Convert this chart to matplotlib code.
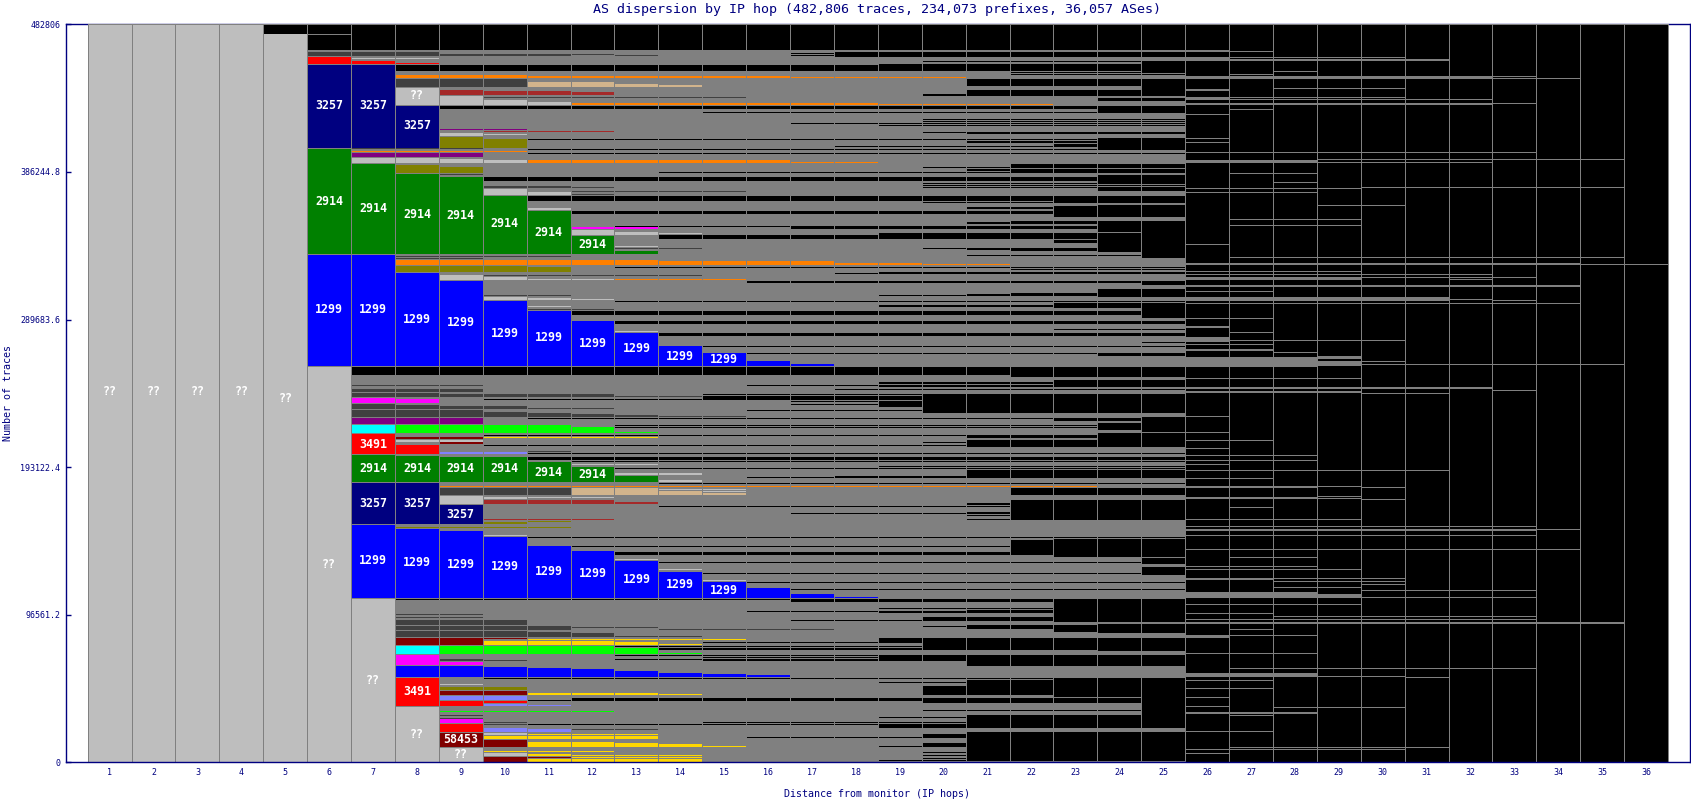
import numpy as np
import matplotlib
matplotlib.use('Agg')
from matplotlib import pyplot as plt

# all trace counts below are in thousands
TOTAL = 482.806
HOPS = np.arange(1, 37)
Y_TICKS = [0, 96561.2, 193122.4, 289683.6, 386244.8, 482806]
Y_TICK_LABELS = ['0', '96561.2', '193122.4', '289683.6', '386244.8', '482806']

# the three big blocks: one top value for each hop, from first hop on
BLUE_A_HOPS = [6, 7, 8, 9, 10, 11, 12, 13, 14, 15, 16, 17]
BLUE_A_TOP = [331.9, 331.9, 320.1, 314.9, 301.8, 295.2, 288.7, 280.8, 272.3, 267.8, 262.5, 260.6]
BLUE_A_BOTTOM = 259.3
BLUE_B_HOPS = [7, 8, 9, 10, 11, 12, 13, 14, 15, 16, 17, 18]
BLUE_B_TOP = [155.2, 152.6, 151.3, 147.4, 141.5, 138.2, 131.7, 124.5, 117.9, 114.0, 110.1, 108.3]
BLUE_B_BOTTOM = 107.5
BLUE_C_HOPS = [8, 9, 10, 11, 12, 13, 14, 15, 16]
BLUE_C_TOP = [63.0, 63.0, 62.4, 61.7, 61.0, 59.7, 58.4, 57.8, 57.1]
BLUE_C_BOTTOM = 55.8
GREEN_A_HOPS = [6, 7, 8, 9, 10, 11, 12, 13]
GREEN_A_TOP = [401.2, 391.4, 384.9, 382.9, 370.5, 360.7, 344.3, 334.5]
GREEN_A_BOTTOM = 332.5
GREEN_B_HOPS = [7, 8, 9, 10, 11, 12, 13]
GREEN_B_TOP = [201.0, 200.4, 199.7, 199.7, 196.5, 193.2, 187.3]
GREEN_B_BOTTOM = 183.4

# rows: first hop, last hop, upper, lower
NAVY = [(6, 7, 456.4, 401.9), (8, 8, 429.4, 401.9), (7, 8, 182.7, 155.9), (9, 9, 168.3, 155.9)]
LIGHT = [(1, 4, 482.8, 0), (5, 5, 476.3, 0), (6, 6, 258.9, 0), (7, 7, 106.8, 0), (8, 8, 36.2, 0),
         (9, 9, 9.4, 0), (8, 8, 441.1, 430.0), (7, 8, 460.4, 459.8), (9, 9, 435.9, 430.0),
         (10, 10, 433.3, 430.0), (11, 11, 432.0, 430.0), (9, 9, 411.7, 409.7), (10, 10, 410.7, 410.1),
         (7, 8, 395.3, 392.0), (9, 9, 394.7, 392.0), (10, 10, 394.0, 392.0), (10, 10, 375.1, 371.1),
         (11, 11, 373.1, 371.1), (11, 11, 362.6, 361.3), (12, 12, 348.2, 345.0), (13, 13, 346.9, 345.0),
         (13, 13, 338.0, 337.4), (14, 14, 345.9, 345.3), (9, 9, 318.8, 315.5), (10, 10, 317.5, 315.5),
         (11, 12, 316.2, 315.6), (10, 10, 304.4, 302.4), (11, 11, 303.8, 302.4), (12, 12, 303.0, 302.4),
         (11, 11, 298.2, 297.6), (13, 13, 282.2, 281.6), (8, 9, 210.9, 209.6), (12, 13, 194.8, 194.2),
         (13, 14, 189.3, 188.0), (14, 14, 184.3, 183.7), (10, 10, 173.6, 172.3), (11, 12, 173.3, 172.7),
         (9, 9, 174.2, 169.0), (14, 15, 178.8, 178.2), (14, 15, 177.5, 176.9), (10, 10, 148.9, 148.3),
         (13, 13, 133.2, 132.6), (14, 14, 126.1, 125.5), (15, 15, 118.9, 118.3), (9, 9, 50.9, 50.3),
         (10, 10, 19.2, 17.9), (10, 10, 6.1, 4.1)]
DARK = [(6, 8, 464.7, 462.3), (9, 11, 463.7, 462.3), (12, 12, 463.4, 462.8), (13, 13, 462.8, 462.3),
        (8, 10, 447.0, 441.8), (10, 15, 434.9, 434.3), (7, 9, 401.5, 400.9), (9, 9, 384.5, 383.9),
        (10, 11, 377.0, 375.7), (12, 12, 376.2, 375.6), (12, 15, 374.0, 373.4), (12, 12, 371.7, 371.1),
        (13, 14, 336.2, 335.6), (8, 11, 331.4, 330.8), (8, 9, 329.7, 329.1), (10, 14, 318.8, 318.2),
        (10, 11, 305.7, 305.1), (11, 12, 296.5, 295.9), (7, 9, 247.1, 246.5), (7, 9, 244.2, 242.2),
        (7, 8, 241.6, 239.0), (9, 12, 240.9, 239.0), (13, 14, 239.8, 239.0), (7, 7, 234.4, 231.1),
        (8, 8, 233.7, 231.1), (9, 10, 233.1, 231.1), (11, 12, 231.9, 231.2), (7, 9, 230.5, 225.9),
        (10, 10, 229.2, 225.9), (11, 11, 228.6, 225.9), (12, 12, 228.0, 225.9), (13, 13, 227.2, 225.9),
        (14, 15, 226.5, 225.9), (11, 11, 203.3, 202.7), (9, 11, 179.4, 174.9), (8, 9, 97.0, 96.4),
        (8, 9, 95.0, 94.4), (8, 10, 93.1, 89.8), (8, 11, 89.2, 86.6), (12, 13, 88.4, 87.8),
        (14, 17, 87.2, 86.6), (8, 10, 85.9, 82.0), (11, 11, 85.3, 82.0), (12, 12, 84.6, 82.0),
        (13, 14, 82.8, 82.0), (9, 9, 67.6, 66.3), (10, 10, 67.0, 66.4), (9, 9, 31.0, 30.4),
        (9, 9, 29.0, 28.4), (10, 10, 26.5, 25.9), (10, 10, 25.1, 24.5), (12, 13, 21.5, 20.9)]
OLIVE = [(8, 8, 390.7, 385.5), (9, 9, 389.4, 385.5), (9, 9, 409.1, 401.9), (10, 10, 407.8, 401.9),
         (8, 10, 324.7, 320.8), (11, 11, 324.0, 320.8), (9, 10, 49.3, 47.3), (10, 10, 157.2, 155.9),
         (11, 11, 157.6, 157.0), (8, 11, 153.9, 153.3)]
PURPLE = [(7, 9, 398.6, 396.0), (9, 10, 414.5, 413.9), (7, 9, 225.2, 221.3)]
RED = [(6, 6, 461.4, 456.8), (7, 7, 458.8, 456.8), (8, 8, 457.7, 457.1), (7, 7, 214.8, 201.7),
       (8, 8, 207.6, 201.7), (8, 8, 55.2, 36.8), (9, 9, 40.1, 36.8), (10, 10, 40.1, 38.5),
       (9, 9, 25.1, 19.8)]
BROWN = [(9, 9, 439.8, 436.6), (10, 11, 439.2, 436.6), (12, 12, 438.5, 436.6), (10, 12, 413.2, 412.6),
         (10, 12, 171.6, 169.0), (13, 13, 170.3, 169.0), (10, 12, 158.8, 158.2)]
DARKRED = [(8, 9, 81.3, 76.7), (10, 10, 81.0, 80.4), (8, 9, 212.8, 211.5), (9, 9, 209.5, 208.2),
           (9, 10, 46.6, 44.0), (9, 9, 19.2, 10.0), (10, 10, 14.6, 10.0), (10, 10, 3.5, 0),
           (11, 11, 3.5, 2.9)]
LIME = [(8, 11, 220.7, 215.4), (12, 12, 219.4, 215.4), (13, 13, 216.1, 215.4), (9, 12, 76.1, 70.9),
        (13, 13, 74.8, 70.9), (14, 14, 71.6, 71.0), (9, 12, 33.2, 32.6)]
CYAN = [(7, 7, 220.7, 215.4), (8, 8, 76.1, 70.9)]
MAGENTA = [(7, 7, 238.3, 235.0), (8, 8, 237.7, 235.0), (8, 8, 70.2, 63.7), (9, 9, 65.6, 63.7),
           (9, 9, 28.3, 25.7), (12, 13, 350.2, 348.9)]
GOLD = [(10, 13, 212.5, 211.9), (11, 15, 80.9, 80.3), (10, 12, 79.4, 76.7), (13, 13, 78.7, 76.7),
        (14, 14, 77.3, 76.7), (11, 13, 45.3, 44.0), (14, 14, 45.0, 44.3), (11, 13, 18.6, 18.0),
        (10, 13, 17.2, 15.2), (11, 12, 13.3, 10.0), (13, 13, 12.6, 10.0), (14, 14, 12.0, 10.0),
        (15, 15, 10.9, 10.3), (10, 12, 7.6, 7.0), (11, 11, 5.4, 4.1), (12, 14, 5.0, 4.4),
        (12, 14, 3.6, 3.0), (11, 14, 2.2, 0)]
ORANGE = [(8, 10, 449.6, 447.7), (11, 16, 449.0, 447.7), (17, 20, 448.3, 447.7), (12, 18, 431.3, 430.0),
          (19, 22, 430.9, 430.3), (7, 10, 399.9, 399.3), (11, 16, 394.0, 392.0), (17, 18, 392.6, 392.0),
          (8, 13, 328.6, 325.3), (14, 17, 328.0, 325.3), (18, 19, 326.6, 325.3), (20, 21, 325.9, 325.3),
          (13, 15, 316.2, 315.6), (9, 23, 181.0, 180.4)]
TAN = [(11, 12, 445.1, 441.8), (13, 13, 443.7, 441.8), (14, 14, 443.1, 441.8), (12, 13, 179.4, 174.9),
       (14, 14, 177.5, 174.9), (15, 15, 176.2, 174.9)]
PERI = [(9, 10, 203.0, 201.7), (9, 10, 43.4, 40.8), (10, 10, 38.0, 36.8), (11, 11, 37.6, 37.0),
        (10, 10, 22.4, 19.8), (11, 11, 21.8, 19.8)]

# black areas carry on to the right once they start: first hop, upper, lower
BLACK_LEFT = [(5, 482.8, 476.7), (6, 476.1, 466.0), (7, 476.7, 466.0), (8, 456.2, 452.3), (9, 429.4, 427.4),
              (11, 407.8, 407.2), (11, 401.3, 400.7), (11, 398.6, 398.0), (10, 382.9, 380.3),
              (11, 370.5, 367.2), (12, 360.7, 358.7), (13, 350.5, 349.9), (14, 345.0, 342.4),
              (14, 386.0, 385.4), (15, 425.6, 425.0), (13, 323.8, 323.2), (16, 314.7, 313.6),
              (13, 301.8, 301.2), (12, 295.2, 292.6), (13, 288.7, 286.9), (14, 280.6, 278.9),
              (15, 272.0, 271.4), (16, 267.8, 267.1), (7, 258.6, 253.4), (16, 246.8, 246.2),
              (15, 240.8, 240.2), (15, 239.8, 239.2), (15, 238.6, 238.0), (15, 237.4, 236.8),
              (10, 237.7, 237.1), (16, 230.6, 230.0), (11, 225.4, 224.8), (13, 219.2, 218.6),
              (13, 220.6, 220.0), (10, 214.2, 213.6), (10, 207.2, 206.6), (11, 202.0, 201.4),
              (11, 199.7, 197.7), (12, 197.1, 196.5), (13, 192.5, 191.9), (16, 186.9, 186.3),
              (14, 182.7, 182.1), (14, 167.7, 167.1), (17, 163.0, 162.4), (11, 147.3, 146.7),
              (12, 141.6, 141.0), (13, 137.8, 135.6), (14, 131.3, 130.3), (15, 124.1, 123.1),
              (16, 118.0, 117.4), (16, 113.5, 112.9), (8, 106.5, 105.9), (17, 106.5, 104.8),
              (16, 98.8, 98.1), (17, 93.0, 92.4), (15, 78.5, 77.9), (13, 76.2, 75.6), (14, 74.8, 73.5),
              (13, 70.2, 69.6), (13, 67.6, 67.0), (15, 69.1, 68.5), (15, 66.9, 66.3), (10, 55.0, 54.4),
              (12, 42.1, 41.0), (11, 40.4, 39.9), (11, 24.9, 24.3), (15, 26.2, 25.6), (16, 16.4, 15.8)]
BLACK_UPPER = [(17, 464.2, 463.6), (17, 462.8, 462.2), (18, 464.5, 461.6), (20, 458.6, 457.9), (19, 456.8, 456.2),
               (22, 451.8, 450.7), (22, 450.0, 449.5), (21, 447.0, 442.6), (21, 439.8, 436.7),
               (20, 437.2, 435.9), (24, 434.6, 432.6), (18, 427.6, 427.1),
               (20, 420.8, 420.3), (20, 419.5, 419.0), (20, 418.0, 417.5), (20, 416.7, 416.2),
               (17, 418.4, 417.8), (19, 416.8, 416.2), (21, 412.3, 411.0), (20, 412.1, 411.5),
               (23, 404.5, 402.3), (18, 403.2, 402.6), (21, 406.4, 405.4), (20, 389.6, 388.5),
               (21, 388.1, 387.0), (22, 391.4, 389.4), (22, 388.1, 385.5), (19, 386.4, 385.4),
               (20, 378.7, 378.1), (20, 377.7, 377.1), (20, 376.6, 376.0), (24, 376.0, 374.0),
               (20, 366.5, 365.9), (23, 370.4, 365.6), (21, 363.5, 361.7), (23, 363.9, 356.9),
               (21, 353.2, 352.4), (22, 353.9, 352.1), (17, 350.4, 348.8), (25, 349.3, 342.7),
               (19, 346.0, 345.2), (23, 341.7, 339.5), (24, 337.3, 334.0),
               (22, 336.2, 334.7), (20, 336.2, 335.6), (21, 336.2, 335.1), (21, 331.9, 331.3),
               (25, 337.3, 329.7), (17, 324.0, 323.1), (22, 324.0, 323.4), (22, 322.6, 322.0),
               (18, 320.3, 319.4), (19, 320.8, 319.9), (25, 314.9, 312.3), (24, 309.4, 304.6),
               (19, 305.7, 305.1), (21, 306.4, 305.3), (22, 306.8, 305.1),
               (19, 299.2, 298.1), (23, 300.3, 297.0), (25, 300.3, 290.5), (23, 283.3, 282.7),
               (25, 275.2, 274.6), (24, 267.0, 265.8),
               (24, 429.3, 424.5), (24, 408.2, 400.5), (24, 384.2, 378.7), (24, 364.6, 356.9),
               (24, 353.6, 347.1), (24, 346.0, 335.1), (25, 458.3, 450.7), (25, 446.6, 436.3)]
BLACK_MIDDLE = [(22, 258.8, 251.9), (23, 250.1, 245.3), (19, 248.8, 247.5), (19, 246.2, 245.3),
                (18, 244.3, 243.7), (20, 240.9, 231.6), (20, 231.6, 228.8), (19, 239.7, 237.5),
                (19, 236.6, 232.7), (17, 236.0, 235.4),
                (17, 234.4, 233.8), (25, 226.1, 216.3), (24, 222.2, 217.4),
                (23, 225.0, 223.3), (21, 214.1, 212.0), (21, 210.9, 206.5), (20, 209.6, 209.0),
                (20, 207.6, 207.0), (24, 215.2, 206.5),
                (19, 193.5, 192.9), (21, 191.2, 186.9),
                (24, 191.2, 186.9), (18, 187.3, 186.3), (22, 179.2, 174.9),
                (21, 169.6, 168.5), (21, 164.0, 163.0), (21, 162.0, 161.0), (21, 159.3, 158.2),
                (22, 171.6, 158.6)]
BLACK_LOWER = [(22, 145.4, 135.6), (23, 145.9, 134.5), (25, 133.4, 129.7), (25, 128.0, 122.5),
               (19, 106.8, 104.6), (23, 106.6, 92.0), (19, 100.7, 100.1), (19, 98.5, 97.9),
               (21, 99.6, 97.9), (20, 94.8, 93.1), (20, 89.1, 88.5), (21, 89.8, 87.2),
               (23, 89.8, 85.4), (24, 90.5, 84.3), (19, 81.1, 77.8), (20, 79.5, 73.4), (24, 81.1, 73.0),
               (19, 70.2, 66.9), (21, 70.2, 63.2), (19, 52.7, 52.1), (20, 50.1, 43.9),
               (21, 53.8, 43.9), (23, 55.0, 42.9), (25, 55.0, 37.5),
               (20, 42.3, 39.0), (20, 34.2, 33.6), (19, 29.8, 29.2),
               (19, 24.4, 22.6), (21, 31.1, 22.2), (25, 37.5, 22.2), (21, 20.0, 1.5), (20, 18.3, 15.6),
               (20, 12.4, 10.2), (20, 6.9, 6.3), (20, 4.7, 4.1), (20, 2.6, 2.0), (19, 16.7, 16.1),
               (19, 10.9, 10.3), (19, 1.6, 1.0), (26, 466.0, 0)]

# what stays gray in the black columns on the right: first hop, last hop, upper, lower
GRAY_TOP = [(26, 26, 466.0, 464.7), (26, 26, 461.6, 459.0), (26, 27, 465.4, 464.8), (26, 30, 461.5, 460.9),
            (26, 31, 459.8, 458.9), (28, 28, 452.5, 451.9), (27, 27, 450.5, 449.9), (26, 32, 448.9, 447.2),
            (33, 33, 449.1, 448.5), (33, 34, 447.7, 447.1), (28, 30, 441.2, 440.6), (26, 26, 440.6, 439.4),
            (26, 26, 435.2, 433.0), (27, 30, 435.1, 434.5), (27, 32, 433.6, 433.0), (26, 32, 431.0, 430.2),
            (33, 33, 431.4, 430.8), (27, 27, 427.5, 426.9), (26, 26, 424.2, 423.6), (26, 26, 408.5, 407.9),
            (26, 26, 405.9, 405.3), (26, 33, 399.3, 398.7), (26, 28, 394.2, 392.0), (29, 35, 394.7, 394.1),
            (29, 32, 392.6, 392.0),
            (27, 28, 385.6, 385.0), (28, 28, 379.7, 379.1), (30, 35, 376.4, 375.8), (26, 29, 375.7, 375.1),
            (26, 28, 373.4, 372.4), (29, 30, 364.6, 364.0), (27, 29, 355.5, 354.9), (27, 29, 351.6, 351.0),
            (26, 26, 338.7, 338.1), (27, 35, 330.8, 330.2), (26, 34, 326.4, 325.3), (35, 36, 326.0, 325.4),
            (26, 29, 321.2, 320.6), (26, 29, 319.5, 318.9), (30, 32, 319.3, 318.7), (26, 29, 317.7, 315.5),
            (30, 33, 317.5, 316.9), (32, 32, 315.8, 315.2)]
GRAY_MIDDLE = [(26, 34, 312.2, 311.1), (26, 27, 308.2, 307.6), (26, 31, 304.2, 302.0), (32, 32, 303.2, 302.6),
               (33, 33, 302.3, 301.7), (26, 34, 300.5, 299.9), (26, 27, 290.7, 290.1), (27, 27, 281.6, 281.0),
               (26, 26, 285.2, 284.0), (26, 26, 278.0, 275.2), (27, 30, 276.3, 275.7), (26, 27, 273.3, 272.7),
               (26, 27, 270.0, 269.4), (28, 28, 268.5, 267.9), (26, 28, 265.3, 258.8), (29, 29, 265.8, 263.6),
               (29, 29, 262.5, 259.2), (30, 30, 262.3, 261.7), (30, 30, 260.8, 260.2), (31, 35, 260.6, 260.0),
               (26, 29, 251.5, 250.9), (26, 32, 245.3, 244.0), (26, 29, 243.0, 241.8), (30, 31, 241.4, 240.8),
               (33, 33, 243.6, 243.0), (26, 26, 226.8, 226.2), (26, 26, 215.9, 215.3), (26, 27, 211.1, 210.5),
               (26, 26, 205.6, 205.0), (26, 28, 201.3, 200.7), (26, 28, 198.0, 197.1), (26, 26, 195.2, 194.6),
               (26, 31, 191.0, 190.4), (26, 27, 186.0, 185.4), (30, 30, 180.2, 179.6), (26, 28, 180.7, 179.4),
               (29, 29, 180.5, 179.9), (26, 28, 173.7, 172.0), (29, 29, 174.4, 173.8), (29, 29, 172.9, 172.3),
               (30, 30, 172.5, 171.9), (27, 27, 167.1, 166.5), (26, 29, 159.2, 158.6), (26, 33, 154.8, 154.2),
               (26, 33, 152.7, 151.6), (34, 34, 152.7, 152.1)]
GRAY_LOWER = [(26, 27, 148.7, 148.1), (28, 33, 148.4, 147.8), (26, 34, 139.7, 139.1), (27, 28, 134.4, 133.8),
              (26, 28, 128.7, 127.9), (26, 29, 126.6, 126.0), (26, 27, 120.4, 119.0), (28, 30, 120.3, 119.7),
              (28, 30, 118.6, 118.0), (30, 30, 116.7, 116.1), (28, 29, 114.8, 114.2), (30, 33, 112.4, 111.8),
              (26, 28, 111.7, 107.3), (29, 29, 109.9, 107.7), (30, 33, 108.3, 107.7), (26, 29, 103.7, 103.1),
              (26, 27, 97.8, 97.2), (28, 33, 95.6, 95.0), (26, 33, 93.4, 92.8), (26, 35, 91.6, 90.6),
              (27, 27, 86.9, 86.3), (26, 28, 83.4, 82.8), (26, 26, 82.6, 81.6), (26, 28, 71.6, 71.0),
              (27, 33, 61.8, 61.2), (26, 28, 58.2, 55.6), (29, 30, 56.5, 55.5), (31, 31, 55.9, 55.3),
              (26, 27, 53.7, 53.1), (26, 27, 48.7, 48.1), (26, 26, 42.6, 42.0), (26, 26, 37.0, 36.4),
              (28, 30, 36.1, 35.5), (26, 28, 33.2, 31.9), (27, 27, 31.0, 30.4), (26, 27, 20.3, 19.7),
              (27, 31, 10.1, 9.5), (26, 30, 8.8, 8.2), (26, 26, 6.2, 5.6)]
GRAY_HOP6_LINE = [(6, 6, 476.7, 476.1)]

# hop, text, middle of the label
LABELS = [(1, '??', 242.3), (2, '??', 242.3), (3, '??', 242.3), (4, '??', 242.3), (5, '??', 238.3),
          (6, '??', 129.7), (7, '??', 53.8), (8, '??', 18.5), (8, '??', 435.9), (9, '??', 5.4),
          (6, '3257', 429.4), (7, '3257', 429.4), (8, '3257', 416.3), (7, '3257', 169.6), (8, '3257', 169.6),
          (9, '3257', 162.4), (6, '2914', 367.2), (7, '2914', 362.6), (8, '2914', 358.7), (9, '2914', 358.0),
          (10, '2914', 352.2), (11, '2914', 346.9), (12, '2914', 339.0), (7, '2914', 192.5), (8, '2914', 192.5),
          (9, '2914', 191.9), (10, '2914', 191.9), (11, '2914', 189.9), (12, '2914', 188.6),
          (6, '1299', 295.9), (7, '1299', 295.9), (8, '1299', 290.0), (9, '1299', 287.4), (10, '1299', 280.8),
          (11, '1299', 277.6), (12, '1299', 274.3), (13, '1299', 270.4), (14, '1299', 265.8), (15, '1299', 263.8),
          (7, '1299', 131.7), (8, '1299', 130.4), (9, '1299', 129.7), (10, '1299', 127.8), (11, '1299', 124.5),
          (12, '1299', 123.2), (13, '1299', 119.9), (14, '1299', 116.6), (15, '1299', 112.7),
          (7, '3491', 208.2), (8, '3491', 46.0), (9, '58453', 14.6)]

GRAY = '#808080'
AXIS = '#000080'
MONO = 'DejaVu Sans Mono'


def draw_rows(ax, rows, color, z):
    for first, last, upper, lower in rows:
        hops = np.arange(first, last + 1)
        # thinnest cells still have to show as one row of pixels
        ax.bar(hops, max(upper - lower, 0.66), bottom=lower, width=1, color=color,
               linewidth=0, antialiased=False, zorder=z)


def draw_block(ax, hops, tops, bottom, color):
    for hop, top in zip(hops, tops):
        ax.bar(hop, top - bottom, bottom=bottom, width=1, color=color,
               linewidth=0, antialiased=False, zorder=4)


fig = plt.figure(figsize=(16.91, 8.0), dpi=100)
ax = fig.add_axes([65.7 / 1691, 37.7 / 800, 1624.3 / 1691, 738 / 800])
ax.set_xlim(0, 37)
ax.set_ylim(0, TOTAL)

# gray ground, then black, then gray left over on the right
ax.bar(HOPS[5:], TOTAL, width=1, color=GRAY, linewidth=0, antialiased=False, zorder=1)
for strips in (BLACK_LEFT, BLACK_UPPER, BLACK_MIDDLE, BLACK_LOWER):
    draw_rows(ax, [(first, 36, up, low) for first, up, low in strips], 'black', 2)
for rows in (GRAY_TOP, GRAY_MIDDLE, GRAY_LOWER, GRAY_HOP6_LINE):
    draw_rows(ax, rows, GRAY, 3)

draw_block(ax, BLUE_A_HOPS, BLUE_A_TOP, BLUE_A_BOTTOM, '#0000FF')
draw_block(ax, BLUE_B_HOPS, BLUE_B_TOP, BLUE_B_BOTTOM, '#0000FF')
draw_block(ax, BLUE_C_HOPS, BLUE_C_TOP, BLUE_C_BOTTOM, '#0000FF')
draw_block(ax, GREEN_A_HOPS, GREEN_A_TOP, GREEN_A_BOTTOM, '#008000')
draw_block(ax, GREEN_B_HOPS, GREEN_B_TOP, GREEN_B_BOTTOM, '#008000')
draw_rows(ax, NAVY, '#000080', 4)
draw_rows(ax, LIGHT, '#BEBEBE', 4)
draw_rows(ax, DARK, '#404040', 4)
draw_rows(ax, OLIVE, '#808000', 4)
draw_rows(ax, PURPLE, '#800080', 4)
draw_rows(ax, RED, '#FF0000', 4)
draw_rows(ax, BROWN, '#A52A2A', 4)
draw_rows(ax, DARKRED, '#800000', 4)
draw_rows(ax, LIME, '#00FF00', 4)
draw_rows(ax, CYAN, '#00FFFF', 4)
draw_rows(ax, MAGENTA, '#FF00FF', 4)
draw_rows(ax, GOLD, '#FFD700', 4)
draw_rows(ax, ORANGE, '#FF8000', 4)
draw_rows(ax, TAN, '#D2B48C', 4)
draw_rows(ax, PERI, '#8080FF', 4)

# column edges and top edge, one pixel wide
ax.vlines(np.arange(0.5, 37), 0, TOTAL, color=GRAY, linewidth=0.72, antialiased=False, zorder=5)
ax.hlines(TOTAL, 0.5, 36.5, color=GRAY, linewidth=0.72, antialiased=False, zorder=8, clip_on=False)

for hop, text, middle in LABELS:
    ax.text(hop, middle, text, color='white', fontsize=8.4, family=MONO, fontweight='bold',
            ha='center', va='center', zorder=6)

ax.set_xticks(HOPS)
ax.set_xticklabels([str(h) for h in HOPS], family=MONO, fontsize=6, color=AXIS)
ax.set_yticks([t / 1000 for t in Y_TICKS])
ax.set_yticklabels(Y_TICK_LABELS, family=MONO, fontsize=6, color=AXIS)
ax.tick_params(axis='x', length=0, pad=4)
ax.tick_params(axis='y', direction='in', length=3.6, width=1, color=AXIS, pad=4)
for name, spine in ax.spines.items():
    spine.set_color(AXIS)
    spine.set_linewidth(1)
    spine.set_zorder(0.5 if name == 'top' else 7)

fig.text(877 / 1691, 1 - 9 / 800, 'AS dispersion by IP hop (482,806 traces, 234,073 prefixes, 36,057 ASes)',
         family=MONO, fontsize=9.6, color=AXIS, ha='center', va='center')
fig.text(877 / 1691, 1 - 794 / 800, 'Distance from monitor (IP hops)',
         family=MONO, fontsize=7.2, color=AXIS, ha='center', va='center')
fig.text(8 / 1691, 1 - 393 / 800, 'Number of traces', family=MONO, fontsize=7.2, color=AXIS,
         rotation=90, ha='center', va='center')

fig.savefig('out.png', dpi=100)
